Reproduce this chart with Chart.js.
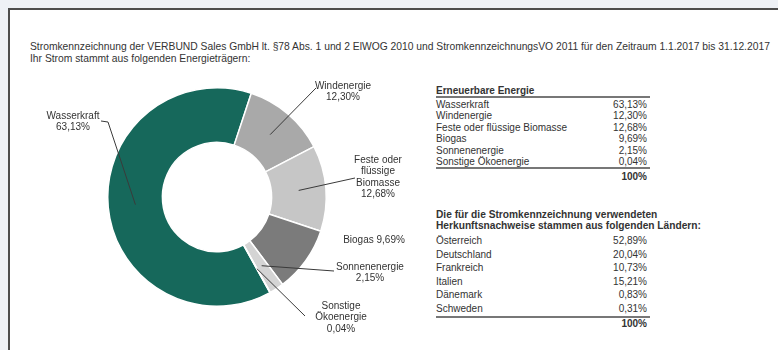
<!DOCTYPE html>
<html lang="de">
<head>
<meta charset="utf-8">
<title>Stromkennzeichnung 2017</title>
<script src="https://cdn.jsdelivr.net/npm/chart.js@4/dist/chart.umd.min.js"></script>
<style>
  html, body { margin: 0; padding: 0; }
  body {
    width: 778px; height: 350px; overflow: hidden; position: relative;
    background: #eef1f6;
    font-family: "Liberation Sans", Arial, sans-serif; color: #333;
  }
  .panel {
    position: absolute; left: 8px; top: 8px; right: 0; bottom: 0;
    background: #fff; border-top: 2px solid #4d4d4d; border-left: 2px solid #4d4d4d;
  }
  .title {
    position: absolute; left: 30px; font-size: 10.3px; line-height: 12px;
    white-space: nowrap;
  }
  #chart { position: absolute; left: 0; top: 0; }
  .tbl { position: absolute; left: 436px; width: 214px; font-size: 10px; }
  .tbl .row { position: relative; height: 11.4px; line-height: 11.4px; white-space: nowrap; }
  .tbl .row span.v { position: absolute; right: 3px; top: 0; }
  .tbl .head { font-weight: bold; white-space: nowrap; }
  .tbl .sum { font-weight: bold; text-align: right; padding-right: 3px; }
</style>
</head>
<body>
<div class="panel"></div>
<div class="title" style="top:41px">Stromkennzeichnung der VERBUND Sales GmbH lt. §78 Abs. 1 und 2 ElWOG 2010 und StromkennzeichnungsVO 2011 für den Zeitraum 1.1.2017 bis 31.12.2017</div>
<div class="title" style="top:53px">Ihr Strom stammt aus folgenden Energieträgern:</div>

<div class="tbl" id="energyTable" style="top:85px"></div>
<div class="tbl" id="countryTable" style="top:209px"></div>

<canvas id="chart" width="778" height="350"></canvas>

<script>
// Energieträger-Mix (Prozent)
const energySources = ['Wasserkraft', 'Windenergie', 'Feste oder flüssige Biomasse', 'Biogas', 'Sonnenenergie', 'Sonstige Ökoenergie'];
const energyShares = [63.13, 12.30, 12.68, 9.69, 2.15, 0.04];
const sliceColors = ['#16685b', '#a9a9a9', '#c6c6c6', '#7b7b7b', '#d4d4d4', '#e8e8e8'];

// Herkunftsnachweise nach Ländern (Prozent)
const countries = ['Österreich', 'Deutschland', 'Frankreich', 'Italien', 'Dänemark', 'Schweden'];
const countryShares = [52.89, 20.04, 10.73, 15.21, 0.83, 0.31];

// text next to the doughnut, one entry per slice
const sliceLabelLines = [
  ['Wasserkraft'],
  ['Windenergie'],
  ['Feste oder', 'flüssige', 'Biomasse'],
  ['Biogas'],
  ['Sonnenenergie'],
  ['Sonstige', 'Ökoenergie']
];
// where each label sits and where its leader line starts
const sliceLabelPlacement = [
  { x: 73, y: 116, line: [[101, 121], [108, 122]] },
  { x: 343, y: 86, line: [[316, 88]] },
  { x: 378, y: 160, line: [[355, 178]] },
  { x: 374, y: 240, inline: true },
  { x: 370, y: 267, line: [[334, 271]] },
  { x: 341, y: 306, line: [[305, 316]] }
];

const fmt = v => v.toFixed(2).replace('.', ',') + '%';

function fillTable(el, heading, names, values) {
  let html = '';
  heading.forEach(h => { html += '<div class="head">' + h + '</div>'; });
  names.forEach((n, i) => {
    html += '<div class="row">' + n + '<span class="v">' + fmt(values[i]) + '</span></div>';
  });
  html += '<div class="sum">100%</div>';
  el.innerHTML = html;
}

const energyTable = document.getElementById('energyTable');
fillTable(energyTable, ['Erneuerbare Energie'], energySources, energyShares);
energyTable.querySelector('.head').style.cssText = 'border-bottom:2px solid #777;line-height:11px;margin-bottom:1px';
energyTable.querySelectorAll('.row')[energySources.length - 1].style.borderBottom = '2px solid #777';
energyTable.querySelector('.sum').style.marginTop = '2px';

const countryTable = document.getElementById('countryTable');
fillTable(countryTable, ['Die für die Stromkennzeichnung verwendeten', 'Herkunftsnachweise stammen aus folgenden Ländern:'], countries, countryShares);
countryTable.querySelectorAll('.head').forEach(h => { h.style.lineHeight = '11px'; h.style.fontSize = '10.2px'; });
countryTable.querySelectorAll('.row').forEach(r => { r.style.height = '13.6px'; r.style.lineHeight = '13.6px'; });
countryTable.querySelectorAll('.row')[countries.length - 1].style.borderBottom = '2px solid #777';
countryTable.querySelector('.row').style.marginTop = '3px';

// labels with leader lines, anchored at each arc's centre point
const sliceLabels = {
  id: 'sliceLabels',
  afterDatasetsDraw(chart) {
    const ctx = chart.ctx;
    const arcs = chart.getDatasetMeta(0).data;
    ctx.save();
    ctx.font = '10px "Liberation Sans", Arial, sans-serif';
    ctx.fillStyle = '#333';
    ctx.textAlign = 'center';
    ctx.textBaseline = 'middle';
    arcs.forEach((arc, i) => {
      const p = sliceLabelPlacement[i];
      const value = fmt(energyShares[i]);
      const lines = p.inline ? [sliceLabelLines[i][0] + ' ' + value] : sliceLabelLines[i].concat(value);
      lines.forEach((t, k) => ctx.fillText(t, p.x, p.y + k * 11.5));
      if (p.line) {
        const a = arc.tooltipPosition();
        ctx.beginPath();
        ctx.strokeStyle = '#3a3a3a';
        ctx.lineWidth = 1;
        ctx.moveTo(p.line[0][0], p.line[0][1]);
        p.line.slice(1).forEach(q => ctx.lineTo(q[0], q[1]));
        ctx.lineTo(a.x, a.y);
        ctx.stroke();
      }
    });
    ctx.restore();
  }
};

new Chart(document.getElementById('chart'), {
  type: 'doughnut',
  data: {
    labels: energySources,
    datasets: [{
      data: energyShares,
      backgroundColor: sliceColors,
      borderColor: '#ffffff',
      borderWidth: 1.5
    }]
  },
  options: {
    responsive: false,
    animation: false,
    cutout: '50%',
    rotation: 151,
    layout: { padding: { left: 107, right: 451, top: 87, bottom: 43 } },
    plugins: { legend: { display: false }, tooltip: { enabled: false } }
  },
  plugins: [sliceLabels]
});
</script>
</body>
</html>
